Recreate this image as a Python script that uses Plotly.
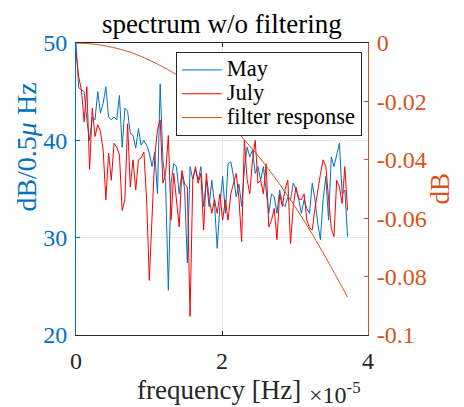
import plotly.graph_objects as go

# frequency grid step, in units of 1e-5 Hz
freq_step = 0.0372

may_db = [50.0, 45.4, 45.2, 45.0, 42.1, 40.0, 42.4, 42.1, 45.0, 42.8,
          43.8, 45.5, 42.4, 42.1, 42.4, 42.1, 44.6, 39.3, 43.3, 43.0,
          40.7, 40.5, 39.2, 41.2, 39.5, 40.0, 39.5, 38.7, 37.3, 38.8,
          34.5, 45.8, 38.0, 35.6, 24.6, 35.6, 37.6, 37.3, 34.5, 36.6,
          35.0, 27.4, 37.3, 36.0, 37.0, 35.9, 37.3, 33.2, 35.9, 33.2,
          35.9, 33.5, 28.9, 33.3, 36.3, 32.5, 37.6, 37.8, 36.3, 34.2,
          35.5, 33.2, 37.0, 39.3, 38.3, 39.0, 36.6, 37.3, 35.9, 37.3,
          34.9, 32.5, 34.5, 34.2, 32.5, 34.9, 33.5, 33.2, 34.2, 33.9,
          35.6, 35.0, 34.0, 32.5, 33.9, 33.0, 32.5, 35.6, 33.9, 31.5,
          29.8, 33.9, 36.3, 31.8, 38.3, 37.3, 38.5, 39.7, 34.5, 34.9,
          30.1]

july_db = [49.0, 46.5, 45.2, 41.9, 45.5, 37.0, 43.3, 40.4, 41.6, 40.9,
           39.0, 33.9, 38.7, 35.9, 39.7, 39.3, 38.5, 32.8, 33.9, 41.7,
           35.2, 38.0, 34.9, 38.0, 38.2, 38.8, 33.9, 25.6, 32.1, 38.3,
           41.1, 42.1, 35.6, 36.6, 40.5, 31.8, 36.6, 33.9, 31.1, 36.9,
           35.5, 35.2, 21.9, 35.9, 37.3, 35.6, 36.6, 30.8, 36.6, 34.0,
           32.5, 33.9, 32.5, 34.5, 31.8, 33.9, 31.8, 34.5, 35.6, 36.6,
           34.0, 29.6, 40.0, 36.0, 34.5, 38.0, 40.0, 35.6, 35.9, 34.5,
           37.6, 31.1, 31.8, 33.0, 29.8, 34.5, 33.2, 35.0, 35.9, 29.4,
           33.2, 35.2, 34.0, 33.9, 34.5, 31.8, 31.0, 30.8, 33.0, 34.9,
           36.5, 38.0, 37.3, 34.0, 31.0, 30.1, 35.9, 35.2, 33.5, 37.3,
           32.8]

filter_freq = [0, 0.25, 0.5, 0.75, 1.0, 1.25, 1.5, 1.75, 2.0, 2.25,
               2.5, 2.75, 3.0, 3.25, 3.5, 3.72]
filter_db = [0, -0.0004, -0.0015, -0.0032, -0.0058, -0.0090, -0.0128, -0.0177,
             -0.0238, -0.0315, -0.0388, -0.0470, -0.0560, -0.0660, -0.0770, -0.0870]

series_names = ["May", "July", "filter response"]

x_ticks = [0, 2, 4]
left_ticks = [20, 30, 40, 50]
right_ticks = [-0.1, -0.08, -0.06, -0.04, -0.02, 0]
right_tick_text = ["-0.1", "-0.08", "-0.06", "-0.04", "-0.02", "0"]

freq = [round(i * freq_step, 5) for i in range(len(may_db))]

BLUE = "#0072BD"
ORANGE = "#D95319"
DARK = "#262626"
FONT = "Liberation Serif"


def legend_label(s):
    return '<span style="font-size:22.5px">' + s + '</span>'


fig = go.Figure()
fig.add_trace(go.Scatter(x=freq, y=may_db, name=legend_label(series_names[0]), mode="lines",
                         line=dict(color=BLUE, width=1)))
fig.add_trace(go.Scatter(x=freq, y=july_db, name=legend_label(series_names[1]), mode="lines",
                         line=dict(color="#FF0000", width=1)))
fig.add_trace(go.Scatter(x=filter_freq, y=filter_db, name=legend_label(series_names[2]),
                         mode="lines", line=dict(color=ORANGE, width=1, shape="spline"),
                         yaxis="y2"))

# the page body adds an 8px offset, so the figure is 8px smaller than the window
fig.update_layout(
    width=456, height=399,
    margin=dict(l=68, r=96, t=35, b=72, autoexpand=False),
    paper_bgcolor="white", plot_bgcolor="white",
    font=dict(family=FONT, size=24, color=DARK),
    title=dict(text="spectrum w/o filtering", x=0.469, xanchor="center",
               y=0.962, yanchor="middle", yref="container",
               font=dict(family=FONT, size=27, color="black")),
    showlegend=True,
    legend=dict(x=0.342, y=0.969, xanchor="left", yanchor="top",
                bgcolor="white", bordercolor=DARK, borderwidth=1,
                font=dict(family=FONT, size=16, color="black"),
                tracegroupgap=0, itemwidth=40),
    xaxis=dict(range=[0, 4], tickvals=x_ticks, ticks="inside", ticklen=4,
               tickcolor=DARK, showline=True, linecolor=DARK, linewidth=1,
               mirror="ticks", showgrid=True, gridcolor="#e4e4e4",
               zeroline=False, tickfont=dict(size=24, color=DARK),
               ticklabelstandoff=4, automargin=False),
    yaxis=dict(range=[20, 50], tickvals=left_ticks, ticks="inside", ticklen=4,
               tickcolor=BLUE, showline=True, linecolor=BLUE, linewidth=1,
               showgrid=True, gridcolor="#dcebf6", zeroline=False,
               tickfont=dict(size=24, color=BLUE), ticklabelstandoff=3,
               automargin=False),
    yaxis2=dict(range=[-0.1, 0], tickvals=right_ticks, ticktext=right_tick_text,
                overlaying="y", side="right", ticks="inside", ticklen=4,
                tickcolor=ORANGE, showline=True, linecolor=ORANGE, linewidth=1,
                showgrid=False, zeroline=False,
                tickfont=dict(size=24, color=ORANGE), ticklabelstandoff=3,
                automargin=False),
    annotations=[
        dict(text="frequency [Hz]", xref="paper", yref="paper", x=0.49, y=-0.19,
             xanchor="center", yanchor="middle", showarrow=False,
             font=dict(family=FONT, size=27, color=DARK)),
        dict(text="×10<sup>-5</sup>", xref="paper", yref="paper", x=0.79, y=-0.197,
             xanchor="left", yanchor="middle", showarrow=False,
             font=dict(family=FONT, size=24, color=DARK)),
        dict(text="dB/0.5<i>μ</i> Hz", xref="paper", yref="paper", x=-0.168, y=0.645,
             xanchor="center", yanchor="middle", showarrow=False, textangle=-90,
             font=dict(family=FONT, size=28, color=BLUE)),
        dict(text="dB", xref="paper", yref="paper", x=1.245, y=0.5,
             xanchor="center", yanchor="middle", showarrow=False, textangle=-90,
             font=dict(family=FONT, size=27, color=ORANGE)),
    ],
)

fig.write_html("out.html")
